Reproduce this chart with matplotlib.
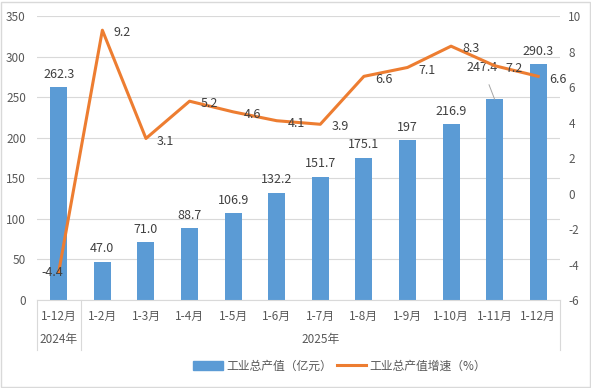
import matplotlib.pyplot as plt
import numpy as np
from matplotlib.lines import Line2D
from matplotlib.patches import Patch, Rectangle

plt.rcParams["font.family"] = ["Noto Sans CJK SC", "DejaVu Sans"]
plt.rcParams["axes.unicode_minus"] = False

categories = ["1-12月", "1-2月", "1-3月", "1-4月", "1-5月", "1-6月",
              "1-7月", "1-8月", "1-9月", "1-10月", "1-11月", "1-12月"]
output_values = [262.3, 47.0, 71.0, 88.7, 106.9, 132.2, 151.7, 175.1, 197, 216.9, 247.4, 290.3]
output_labels = ["262.3", "47.0", "71.0", "88.7", "106.9", "132.2", "151.7",
                 "175.1", "197", "216.9", "247.4", "290.3"]
growth_values = [-4.4, 9.2, 3.1, 5.2, 4.6, 4.1, 3.9, 6.6, 7.1, 8.3, 7.2, 6.6]
year_groups = [("2024年", 0, 0), ("2025年", 1, 11)]

BAR = "#5B9BD5"
LINE = "#ED7D31"
TXT = "#595959"

fig = plt.figure(figsize=(5.91, 3.88), dpi=100)
ax = fig.add_axes([37 / 591, 1 - 300 / 388, 523 / 591, 284 / 388])
ax2 = ax.twinx()

x = np.arange(len(categories))
ax.bar(x, output_values, width=0.39, color=BAR, zorder=2)
ax.set_xlim(-0.5, len(categories) - 0.5)
ax.set_ylim(0, 350)
ax.set_yticks(range(0, 351, 50))
ax.yaxis.grid(True, color="#D9D9D9", linewidth=0.8, zorder=0)
ax.set_axisbelow(True)
ax.set_xticks([])
for s in ["top", "right", "left"]:
    ax.spines[s].set_visible(False)
ax.spines["bottom"].set_color("#D9D9D9")
ax.tick_params(axis="y", length=0, labelsize=8.5, labelcolor=TXT, pad=8)

for i, (v, lab) in enumerate(zip(output_values, output_labels)):
    if i == 10:
        ax.annotate(lab, xy=(i, v), xytext=(i - 0.28, v + 39), ha="center", va="center",
                    fontsize=9, color="#404040",
                    arrowprops=dict(arrowstyle="-", color="#A6A6A6", lw=0.7,
                                    shrinkA=6, shrinkB=0))
    else:
        ax.text(i, v + 8, lab, ha="center", va="bottom", fontsize=9, color="#404040")

ax2.plot(x, growth_values, color=LINE, linewidth=2.2, zorder=3)
ax2.set_ylim(-6, 10)
ax2.set_yticks(range(-6, 11, 2))
for s in ["top", "right", "left", "bottom"]:
    ax2.spines[s].set_visible(False)
ax2.tick_params(axis="y", length=0, labelsize=8.5, labelcolor=TXT, pad=6)

for i, v in enumerate(growth_values):
    if i == 0:
        ax2.text(i - 0.15, v - 0.05, f"{v}", ha="center", va="center", fontsize=9, color="#404040")
    else:
        ax2.text(i + 0.45, v - 0.15, f"{v}", ha="center", va="center", fontsize=9, color="#404040")

# category labels and year groups
for i, c in enumerate(categories):
    ax.text(i, -20, c, ha="center", va="center", fontsize=8.5, color=TXT)
for name, a, b in year_groups:
    ax.text((a + b) / 2, -49, name, ha="center", va="center", fontsize=8.5, color=TXT)
for xb in [-0.5, 0.5, 11.5]:
    ax.add_line(Line2D([xb, xb], [0, -62], color="#D9D9D9", linewidth=0.8,
                       clip_on=False, transform=ax.transData))

handles = [Patch(color=BAR), Line2D([0], [0], color=LINE, linewidth=2.2)]
fig.legend(handles, ["工业总产值（亿元）", "工业总产值增速（%）"], loc="center",
           bbox_to_anchor=(0.575, 1 - 366 / 388), ncol=2, frameon=False, fontsize=8.5,
           labelcolor=TXT, handlelength=2.5, columnspacing=0.4, handletextpad=0.3)

fig.add_artist(Rectangle((0.002, 0.002), 0.996, 0.994, transform=fig.transFigure,
                         fill=False, edgecolor="#D9D9D9", linewidth=1))

fig.savefig("out.png", dpi=100)
